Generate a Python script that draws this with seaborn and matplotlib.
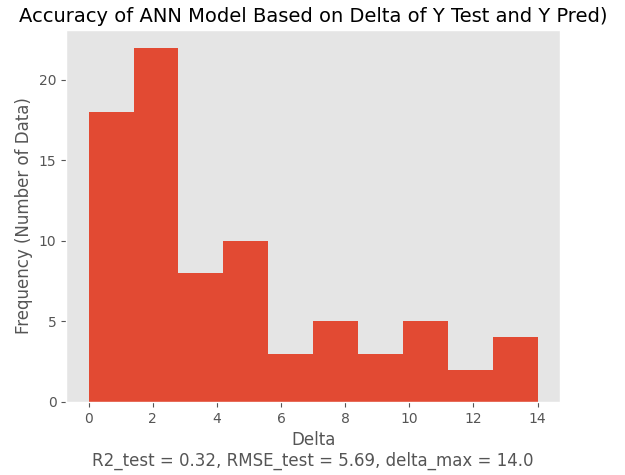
import numpy as np
import pandas as pd
import seaborn as sns
from matplotlib import pyplot as plt

# histogram counts (10 bins over 0..14)
bin_lo = 0.0
bin_hi = 14.0
counts = [18, 22, 8, 10, 3, 5, 3, 5, 2, 4]

n_bins = len(counts)
width = (bin_hi - bin_lo) / n_bins
centers = [bin_lo + width * (i + 0.5) for i in range(n_bins)]
df = pd.DataFrame({'delta': centers, 'count': counts})

plt.style.use('ggplot')
fig, ax = plt.subplots(figsize=(6.25, 4.75), dpi=100)
fig.subplots_adjust(left=0.106, right=0.896, top=0.937, bottom=0.154)
sns.histplot(data=df, x='delta', weights='count', bins=n_bins, binrange=(bin_lo, bin_hi),
             color='#E24A33', alpha=1, edgecolor='none', linewidth=0, ax=ax)
ax.grid(False)
ax.set_title('Accuracy of ANN Model Based on Delta of Y Test and Y Pred)', fontsize=14, color='black')
ax.set_xlabel('Delta\nR2_test = 0.32, RMSE_test = 5.69, delta_max = 14.0')
ax.set_ylabel('Frequency (Number of Data)')
ax.set_xticks([0, 2, 4, 6, 8, 10, 12, 14])
fig.savefig('out.png', dpi=100)
